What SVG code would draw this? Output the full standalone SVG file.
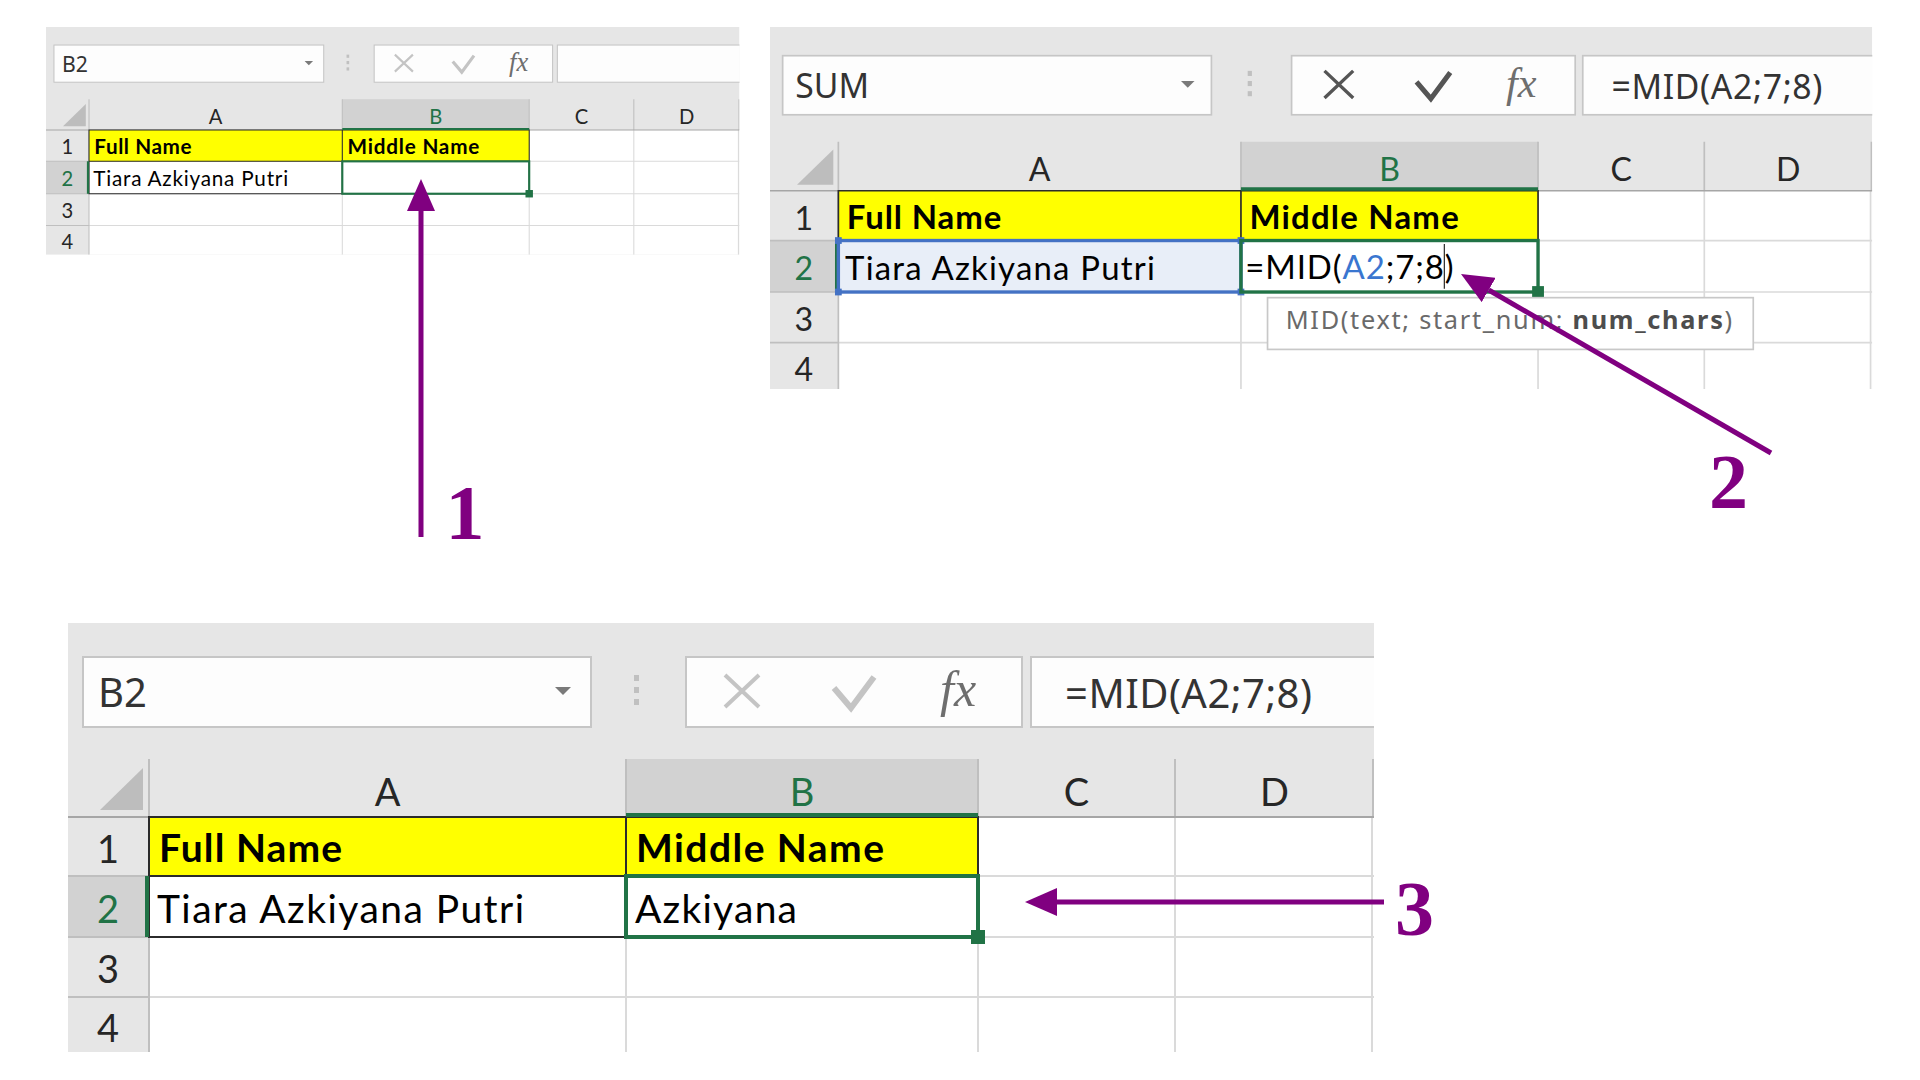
<svg xmlns="http://www.w3.org/2000/svg" width="1920" height="1080" viewBox="0 0 1920 1080">
<defs>
<style>
.bg{fill:#e6e6e6}
.cellbg{fill:#ffffff}
.box{fill:#fdfdfd;stroke:#c6c6c6;stroke-width:2}
.hsel{fill:#d2d2d2}
.sep{stroke:#bfbfbf;stroke-width:2;fill:none}
.hline{stroke:#a6a6a6;stroke-width:2;fill:none}
.grid{stroke:#dadada;stroke-width:2;fill:none}
.tbl{fill:none;stroke:#2b2b2b;stroke-width:2}
.yellow{fill:#ffff00}
.green{stroke:#217346;stroke-width:4;fill:none}
.sel{fill:#217346}
.hdrtxt{font-family:Lato,"Liberation Sans",sans-serif;font-size:38px;fill:#262626;text-anchor:middle}
.gtxt{fill:#217346}
.cell{font-family:Lato,"Liberation Sans",sans-serif;font-size:39px;fill:#000000}
.b{font-weight:700}
.ui{font-family:"Noto Sans","Open Sans",sans-serif;font-size:40px;fill:#333333}
.fx{font-family:"Liberation Serif",serif;font-style:italic;font-size:50px;fill:#6e6e6e}
.off{stroke:#c4c4c4;fill:none}
.on{stroke:#555555;fill:none}
.x{stroke-width:4}
.chk{stroke-width:6;stroke-linejoin:miter}
.tip{font-family:"Noto Sans","Open Sans",sans-serif;font-size:30px;fill:#6a6a6a}
.num{font-family:"Liberation Serif",serif;font-weight:700;font-size:78px;fill:#800080;text-anchor:middle}
.arrow{stroke:#800080;stroke-width:5;fill:none;marker-end:url(#head)}
</style>
<marker id="head" markerUnits="userSpaceOnUse" markerWidth="34" markerHeight="28" refX="0" refY="14" orient="auto" viewBox="0 0 34 28">
<path d="M0,0 L32,14 L0,28 Z" fill="#800080"/>
</marker>
<clipPath id="pclip"><rect x="0" y="0" width="1306" height="429"/></clipPath>
<g id="chrome">
<rect class="bg" x="0" y="0" width="1306" height="429"/>
<rect class="cellbg" x="81" y="194" width="1225" height="235"/>
<rect class="box" x="15" y="34" width="508" height="70"/>
<polygon points="487,64 503,64 495,72" fill="#7a7a7a"/>
<rect x="566" y="52" width="5" height="6" fill="#c0c0c0"/>
<rect x="566" y="64" width="5" height="6" fill="#c0c0c0"/>
<rect x="566" y="76" width="5" height="6" fill="#c0c0c0"/>
<rect class="box" x="618" y="34" width="336" height="70"/>
<rect class="box" x="963" y="34" width="380" height="70"/>
<text class="fx" x="872" y="83">fx</text>
<rect class="hsel" x="558" y="136" width="352" height="58"/>
<rect class="hsel" x="0" y="253" width="81" height="61"/>
<polygon points="32,187 75,145 75,187" fill="#bdbdbd"/>
<path class="grid" d="M558,194V429 M910,194V429 M1107,194V429 M1304,194V429 M81,253H1306 M81,314H1306 M81,374H1306"/>
<path class="sep" d="M81,136V429 M558,136V194 M910,136V194 M1107,136V194 M1305,136V194 M0,253H81 M0,314H81 M0,374H81"/>
<path class="hline" d="M0,194H1306"/>
<rect class="yellow" x="81" y="194" width="477" height="59"/>
<rect class="yellow" x="558" y="194" width="352" height="59"/>
<path class="tbl" d="M81,194H910V314H81Z M558,194V314 M81,253H910"/>
<path class="green" d="M558,192H910 M79,253V314"/>
<text class="hdrtxt" x="319.5" y="183">A</text>
<text class="hdrtxt gtxt" x="734" y="183">B</text>
<text class="hdrtxt" x="1008.5" y="183">C</text>
<text class="hdrtxt" x="1206.5" y="183">D</text>
<text class="hdrtxt" x="40" y="240">1</text>
<text class="hdrtxt gtxt" x="40" y="300">2</text>
<text class="hdrtxt" x="40" y="360">3</text>
<text class="hdrtxt" x="40" y="419">4</text>
<text class="cell b" x="91" y="239" textLength="183">Full Name</text>
<text class="cell b" x="568" y="239" textLength="248">Middle Name</text>
</g>
</defs>

<g id="panel1" transform="translate(46,27) scale(0.531)">
<g clip-path="url(#pclip)">
<use href="#chrome"/>
<text class="cell" x="89" y="300" textLength="367">Tiara Azkiyana Putri</text>
<path class="off x" d="M657,52L691,84M691,52L657,84"/>
<path class="off chk" d="M766,65L783,85L806,54"/>
<text class="ui" x="30" y="84">B2</text>
<rect class="green" x="558" y="253" width="352" height="61"/>
<rect class="sel" x="903" y="307" width="14" height="14"/>
</g>
</g>

<g id="panel2" transform="translate(770,27) scale(0.844)">
<g clip-path="url(#pclip)">
<use href="#chrome"/>
<rect x="82" y="254" width="475" height="59" fill="#e8eef8"/>
<text class="cell" x="89" y="300" textLength="367">Tiara Azkiyana Putri</text>
<rect x="81" y="253" width="477" height="61" fill="none" stroke="#4472c4" stroke-width="4"/>
<rect x="77" y="249" width="8" height="8" fill="#4472c4"/>
<rect x="554" y="249" width="8" height="8" fill="#4472c4"/>
<rect x="77" y="310" width="8" height="8" fill="#4472c4"/>
<rect x="554" y="310" width="8" height="8" fill="#4472c4"/>
<rect class="green" x="558" y="253" width="352" height="61"/>
<rect class="sel" x="903" y="307" width="14" height="14"/>
<text class="cell" x="563" y="299" textLength="247">=MID(<tspan fill="#3a76d0">A2</tspan>;7;8)</text>
<path d="M799,257V310" stroke="#333333" stroke-width="1.5"/>
<path class="on x" d="M657,52L691,84M691,52L657,84"/>
<path class="on chk" d="M766,65L783,85L806,54"/>
<text class="ui" x="30" y="84">SUM</text>
<text class="ui" x="997" y="85" textLength="250">=MID(A2;7;8)</text>
<rect x="589.5" y="320.7" width="575.5" height="61.3" fill="#ffffff" stroke="#c8c8c8" stroke-width="2"/>
<text class="tip" x="611" y="358" textLength="529">MID(text; start_num; <tspan font-weight="700" fill="#4d4d4d">num_chars</tspan>)</text>
</g>
</g>

<g id="panel3" transform="translate(68,623)">
<g clip-path="url(#pclip)">
<use href="#chrome"/>
<text class="cell" x="89" y="300" textLength="367">Tiara Azkiyana Putri</text>
<path class="off x" d="M657,52L691,84M691,52L657,84"/>
<path class="off chk" d="M766,65L783,85L806,54"/>
<text class="ui" x="30" y="84">B2</text>
<text class="ui" x="997" y="85" textLength="247">=MID(A2;7;8)</text>
<rect class="green" x="558" y="253" width="352" height="61"/>
<rect class="sel" x="903" y="307" width="14" height="14"/>
<text class="cell" x="567" y="300" textLength="162">Azkiyana</text>
</g>
</g>

<g id="connectors">
<path class="arrow" d="M421,537 L421,211"/>
<path class="arrow" d="M1771,453 L1488.7,290"/>
<path class="arrow" d="M1384,902 L1057,902"/>
</g>

<g id="label1"><text class="num" x="465" y="539">1</text></g>
<g id="label2"><text class="num" x="1728.5" y="508">2</text></g>
<g id="label3"><text class="num" x="1414.5" y="935">3</text></g>
</svg>
